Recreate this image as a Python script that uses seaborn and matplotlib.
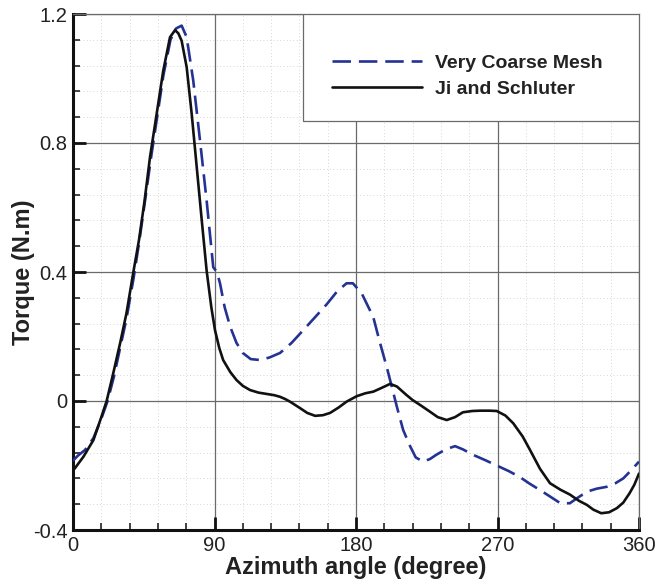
import numpy as np
import pandas as pd
import matplotlib
matplotlib.use("Agg")
import matplotlib.pyplot as plt
from matplotlib.patches import Rectangle
from matplotlib.ticker import MultipleLocator
import seaborn as sns

# Ji and Schluter reference torque
ji_angle = [0, 1.3, 6.6, 13, 18, 21.4, 25.6, 30, 34, 38.4, 42, 45.5, 49, 53.2, 57.4,
            61.7, 64.9, 67, 69.1, 72.3, 75.5, 78.7, 81.9, 85, 88, 90.3, 93, 95.5, 100,
            104, 108, 112.6, 118, 123, 128, 131.7, 135, 138, 144.4, 149, 154, 159,
            163.5, 169, 174, 180.5, 186, 191, 196, 201.7, 206, 212, 216, 221, 227,
            232, 237.7, 243, 248, 254, 259, 265, 269.5, 275, 280, 286, 290.7, 297,
            303.4, 310, 316, 322, 326.8, 331, 336, 341, 346, 350, 354, 357, 360]
ji_torque = [-0.215, -0.208, -0.173, -0.121, -0.05, 0.0, 0.086, 0.18, 0.272, 0.40,
             0.50, 0.62, 0.757, 0.89, 1.024, 1.128, 1.15, 1.14, 1.117, 1.035, 0.89,
             0.725, 0.56, 0.404, 0.29, 0.22, 0.165, 0.127, 0.09, 0.065, 0.047, 0.034,
             0.026, 0.022, 0.018, 0.013, 0.006, -0.002, -0.022, -0.037, -0.046,
             -0.044, -0.037, -0.02, -0.002, 0.015, 0.024, 0.029, 0.04, 0.053, 0.045,
             0.019, 0.003, -0.013, -0.033, -0.05, -0.059, -0.05, -0.035, -0.031,
             -0.03, -0.03, -0.031, -0.045, -0.069, -0.11, -0.152, -0.21, -0.255,
             -0.275, -0.29, -0.31, -0.322, -0.337, -0.348, -0.345, -0.332, -0.315,
             -0.286, -0.26, -0.225]

# Very coarse mesh CFD torque
vc_angle = [0, 3, 7.6, 13, 18, 22, 26, 30, 34, 38.5, 42, 45.5, 49.5, 53.5, 57.5, 62,
            65.5, 69.1, 72.3, 76.5, 80.8, 85, 89.2, 91.5, 93.5, 96.5, 100, 104, 108,
            113, 119, 125, 131.7, 139, 146.5, 154, 161.4, 168, 174, 178, 183.6, 187,
            191, 195, 199.5, 203, 206, 210, 214.4, 218, 222.7, 227, 231, 237, 243,
            248, 254.5, 262, 269.5, 277, 284, 290, 297, 304, 310, 316, 321, 327, 333,
            339.5, 345, 350, 355, 360]
vc_torque = [-0.185, -0.17, -0.152, -0.115, -0.055, 0.0, 0.075, 0.165, 0.255, 0.38,
             0.49, 0.61, 0.75, 0.88, 1.01, 1.12, 1.155, 1.164, 1.128, 0.993, 0.807,
             0.621, 0.415, 0.40, 0.365, 0.29, 0.23, 0.18, 0.149, 0.13, 0.127, 0.135,
             0.149, 0.18, 0.22, 0.26, 0.30, 0.34, 0.365, 0.365, 0.334, 0.30, 0.26,
             0.185, 0.106, 0.04, -0.018, -0.09, -0.14, -0.175, -0.188, -0.18, -0.167,
             -0.15, -0.14, -0.15, -0.167, -0.183, -0.20, -0.217, -0.235, -0.255,
             -0.276, -0.298, -0.317, -0.317, -0.30, -0.281, -0.272, -0.266, -0.255,
             -0.24, -0.215, -0.188]

series_names = ["Very Coarse Mesh", "Ji and Schluter"]
x_ticks = [0, 90, 180, 270, 360]
y_ticks = [-0.4, 0, 0.4, 0.8, 1.2]
y_tick_labels = ["-0.4", "0", "0.4", "0.8", "1.2"]

df = pd.concat([
    pd.DataFrame({"angle": vc_angle, "torque": vc_torque, "series": series_names[0]}),
    pd.DataFrame({"angle": ji_angle, "torque": ji_torque, "series": series_names[1]}),
], ignore_index=True)

sns.set_theme(style="white")
plt.rcParams["font.family"] = ["Liberation Sans", "DejaVu Sans"]

fig = plt.figure(figsize=(6.55, 5.82), dpi=100)
ax = fig.add_axes([73 / 655, 1 - 530 / 582, 566 / 655, 516 / 582])

palette = {series_names[0]: "#243393", series_names[1]: "#111111"}
dashes = {series_names[0]: (7, 3), series_names[1]: ""}
sns.lineplot(data=df, x="angle", y="torque", hue="series", style="series",
             palette=palette, dashes=dashes, sort=False, estimator=None,
             linewidth=1.9, ax=ax, legend=False, zorder=3)

ax.set_xlim(0, 360)
ax.set_ylim(-0.4, 1.2)
ax.set_xticks(x_ticks)
ax.set_xticklabels([str(t) for t in x_ticks])
ax.set_yticks(y_ticks)
ax.set_yticklabels(y_tick_labels)
ax.xaxis.set_minor_locator(MultipleLocator(18))
ax.yaxis.set_minor_locator(MultipleLocator(0.08))

ax.grid(which="major", color="#6a6a6a", linewidth=0.9, linestyle="-", zorder=1)
ax.grid(which="minor", color="#c8c8c8", linewidth=0.6, linestyle=(0, (1, 3)), zorder=1)
ax.set_axisbelow(True)

ax.tick_params(which="major", direction="in", length=9.5, width=2.0, color="#111111",
               labelsize=14.5, labelcolor="#222222", pad=4,
               bottom=True, left=True, top=False, right=False)
ax.tick_params(which="minor", direction="in", length=5, width=1.1, color="#111111",
               bottom=True, left=True, top=False, right=False)

for side in ["left", "bottom"]:
    ax.spines[side].set_color("#111111")
    ax.spines[side].set_linewidth(2.2)
for side in ["top", "right"]:
    ax.spines[side].set_color("#6a6a6a")
    ax.spines[side].set_linewidth(0.9)

ax.set_xlabel("Azimuth angle (degree)", fontsize=17, fontweight="bold", color="#222222")
ax.set_ylabel("Torque (N.m)", fontsize=17, fontweight="bold", color="#222222")
ax.xaxis.set_label_coords(0.5, -0.05)
ax.yaxis.set_label_coords(-0.068, 0.5)

# Legend box in the upper right corner
box = Rectangle((0.406, 0.793), 0.594, 0.207, transform=ax.transAxes,
                facecolor="white", edgecolor="#6a6a6a", linewidth=0.9, zorder=4)
ax.add_patch(box)
handles = [
    plt.Line2D([], [], color=palette[series_names[0]], linewidth=1.9, dashes=(7, 3)),
    plt.Line2D([], [], color=palette[series_names[1]], linewidth=1.9),
]
leg = ax.legend(handles, series_names, loc="center", bbox_to_anchor=(0.697, 0.88),
                frameon=False, handlelength=4.6, handletextpad=0.7, labelspacing=0.45,
                prop={"weight": "bold", "size": 14})
leg.set_zorder(5)
for t in leg.get_texts():
    t.set_color("#222222")

fig.savefig("out.png", dpi=100, facecolor="white")
